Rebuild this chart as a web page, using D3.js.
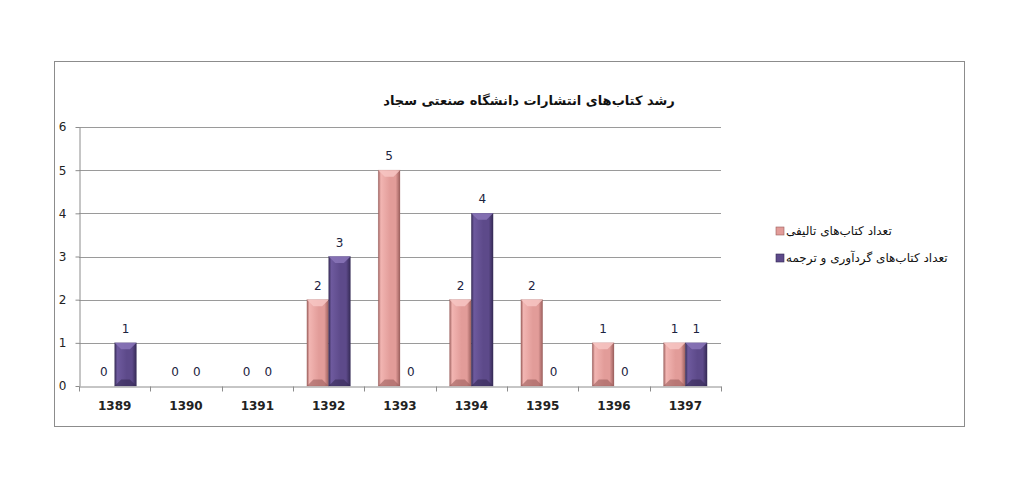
<!DOCTYPE html>
<html>
<head>
<meta charset="utf-8">
<script src="https://cdn.jsdelivr.net/npm/d3@7"></script>
<style>
  body { margin: 0; background: #fff; }
  svg { display: block; }
  .tick text { font-family: 'DejaVu Sans', sans-serif; }
</style>
</head>
<body>
<div id="chart"></div>
<script>
// Data
const years = ['1389', '1390', '1391', '1392', '1393', '1394', '1395', '1396', '1397'];
const authored = [0, 0, 0, 2, 5, 2, 2, 1, 1];
const translated = [1, 0, 0, 3, 0, 4, 0, 0, 1];
const seriesNames = ['تعداد کتاب‌های تالیفی', 'تعداد کتاب‌های گردآوری و ترجمه'];
const yTicks = [0, 1, 2, 3, 4, 5, 6];
const titleText = 'رشد کتاب‌های انتشارات دانشگاه صنعتی سجاد';

const W = 1018;
const H = 502;
const margin = { t: 127, r: 297, b: 116, l: 79 };
const width = W - margin.l - margin.r;
const height = H - margin.t - margin.b;

const svg = d3.select('#chart')
  .append('svg')
  .attr('width', W)
  .attr('height', H);

// gradients for the bevelled bars
const colors = [
  { base: '#e29c99', light: '#f2b5b2', dark: '#9c5f5d', top: '#f7c6c3' },
  { base: '#5d4a8a', light: '#6e5a9e', dark: '#352a55', top: '#8a76b8' },
];
const defs = svg.append('defs');
colors.forEach((c, i) => {
  const g = defs.append('linearGradient').attr('id', `grad${i}`)
    .attr('x1', 0).attr('x2', 1).attr('y1', 0).attr('y2', 0);
  g.append('stop').attr('offset', '0%').attr('stop-color', c.dark);
  g.append('stop').attr('offset', '12%').attr('stop-color', c.light);
  g.append('stop').attr('offset', '55%').attr('stop-color', c.base);
  g.append('stop').attr('offset', '80%').attr('stop-color', c.base);
  g.append('stop').attr('offset', '100%').attr('stop-color', c.dark);
});

// outer frame
svg.append('rect')
  .attr('x', 54.5).attr('y', 61.5)
  .attr('width', 910).attr('height', 365)
  .attr('fill', 'none')
  .attr('stroke', '#8c8c8c');

// title
svg.append('text')
  .attr('x', 529)
  .attr('y', 105)
  .attr('text-anchor', 'middle')
  .attr('direction', 'rtl')
  .style('font-family', "'DejaVu Sans', sans-serif")
  .style('font-weight', 'bold')
  .style('font-size', '13px')
  .attr('fill', '#111')
  .text(titleText);

const g = svg.append('g').attr('transform', `translate(${margin.l}, ${margin.t})`);

const xScale = d3.scaleBand().domain(years).range([0, width]).paddingInner(0).paddingOuter(0);
const xSub = d3.scaleBand().domain([0, 1]).range([xScale.bandwidth() * 0.195, xScale.bandwidth() * 0.805]);
const yScale = d3.scaleLinear().domain([0, 6]).range([height, 0]);

// gridlines
g.append('g')
  .selectAll('line')
  .data(yTicks.filter((d) => d > 0))
  .join('line')
  .attr('x1', 0).attr('x2', width)
  .attr('y1', (d) => Math.round(yScale(d)) + 0.5)
  .attr('y2', (d) => Math.round(yScale(d)) + 0.5)
  .attr('stroke', '#9a9a9a');

// y-axis
const yAxis = g.append('g')
  .attr('transform', 'translate(0.5, 0)')
  .call(d3.axisLeft(yScale).tickValues(yTicks).tickFormat(d3.format('d'))
    .tickSize(4).tickSizeOuter(0).tickPadding(9));
yAxis.select('.domain').attr('stroke', '#8c8c8c');
yAxis.selectAll('.tick line').attr('stroke', '#8c8c8c');
yAxis.selectAll('.tick text').attr('font-size', 12).attr('fill', '#222');

// x-axis
const xAxis = g.append('g')
  .attr('transform', `translate(0, ${height + 0.5})`)
  .call(d3.axisBottom(xScale).tickSize(0).tickPadding(15));
xAxis.select('.domain').attr('stroke', '#8c8c8c');
xAxis.selectAll('.tick text').attr('font-size', 12).attr('font-weight', 'bold').attr('fill', '#222');
// tick marks between categories
xAxis.append('g')
  .selectAll('line')
  .data(years.map((d) => xScale(d)).concat([width]))
  .join('line')
  .attr('x1', (d) => Math.round(d) + 0.5)
  .attr('x2', (d) => Math.round(d) + 0.5)
  .attr('y1', 0).attr('y2', 5)
  .attr('stroke', '#8c8c8c');

// bars
const rows = [];
years.forEach((y, i) => {
  rows.push({ year: y, s: 0, v: authored[i] });
  rows.push({ year: y, s: 1, v: translated[i] });
});

const bars = g.append('g')
  .selectAll('g')
  .data(rows.filter((d) => d.v > 0))
  .join('g');

bars.append('rect')
  .attr('x', (d) => xScale(d.year) + xSub(d.s))
  .attr('y', (d) => yScale(d.v))
  .attr('width', xSub.bandwidth())
  .attr('height', (d) => yScale(0) - yScale(d.v))
  .attr('fill', (d) => `url(#grad${d.s})`)
  .attr('stroke', (d) => colors[d.s].dark)
  .attr('stroke-opacity', 0.4)
  .attr('stroke-width', 0.6);

// top bevel
bars.append('path')
  .attr('d', (d) => {
    const x0 = xScale(d.year) + xSub(d.s);
    const x1 = x0 + xSub.bandwidth();
    const y0 = yScale(d.v);
    const bw = xSub.bandwidth();
    return `M${x0},${y0}L${x1},${y0}L${x1 - bw * 0.3},${y0 + bw * 0.3}L${x0 + bw * 0.3},${y0 + bw * 0.3}Z`;
  })
  .attr('fill', (d) => colors[d.s].top)
  .attr('opacity', 0.85);

// bottom bevel
bars.append('path')
  .attr('d', (d) => {
    const x0 = xScale(d.year) + xSub(d.s);
    const x1 = x0 + xSub.bandwidth();
    const y0 = yScale(0);
    const bw = xSub.bandwidth();
    return `M${x0},${y0}L${x1},${y0}L${x1 - bw * 0.3},${y0 - bw * 0.3}L${x0 + bw * 0.3},${y0 - bw * 0.3}Z`;
  })
  .attr('fill', (d) => colors[d.s].dark)
  .attr('opacity', 0.6);

// value labels
g.append('g')
  .selectAll('text')
  .data(rows)
  .join('text')
  .attr('x', (d) => xScale(d.year) + xSub(d.s) + xSub.bandwidth() / 2)
  .attr('y', (d) => yScale(d.v) - 10)
  .attr('text-anchor', 'middle')
  .style('font-family', "'DejaVu Sans', sans-serif")
  .style('font-size', '12px')
  .attr('fill', '#1c2340')
  .text((d) => d.v);

// legend
const legend = svg.append('g').attr('transform', 'translate(776, 0)');
const legendY = [231, 258];
seriesNames.forEach((name, i) => {
  legend.append('rect')
    .attr('x', 0).attr('y', legendY[i] - 4)
    .attr('width', 8).attr('height', 8)
    .attr('fill', colors[i].base)
    .attr('stroke', colors[i].dark)
    .attr('stroke-width', 0.6);
  legend.append('text')
    .attr('x', 10)
    .attr('y', legendY[i] + 4)
    .attr('text-anchor', 'start')
    .style('font-family', "'DejaVu Sans', sans-serif")
    .style('font-size', '12px')
    .attr('fill', '#111')
    .text(name);
});
</script>
</body>
</html>
